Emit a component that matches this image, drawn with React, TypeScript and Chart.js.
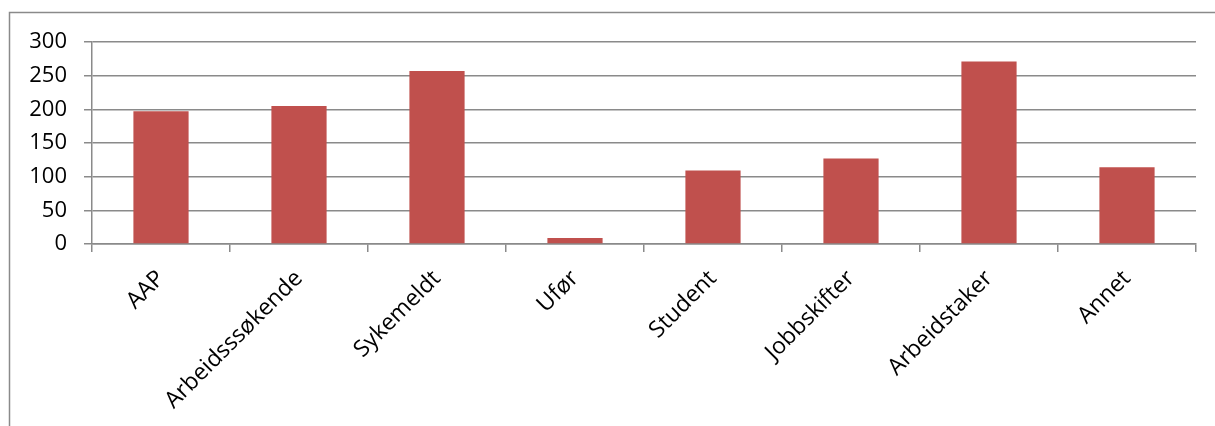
import React, { useEffect, useRef } from "react";
import { Chart, registerables } from "chart.js";

Chart.register(...registerables);

const categories = ["AAP", "Arbeidsssøkende", "Sykemeldt", "Ufør", "Student", "Jobbskifter", "Arbeidstaker", "Annet"];
const values = [197, 205, 257, 9, 109, 127, 271, 114];
const yMin = 0;
const yMax = 300;
const yStep = 50;

const framePlugin = {
  id: "frame",
  beforeDraw(chart: any) {
    const ctx = chart.ctx;
    ctx.save();
    ctx.strokeStyle = "#8a8a8a";
    ctx.lineWidth = 1.5;
    ctx.beginPath();
    ctx.moveTo(9.5, 430);
    ctx.lineTo(9.5, 12.5);
    ctx.lineTo(1220, 12.5);
    ctx.stroke();
    ctx.restore();
  },
};

export default function App() {
  const ref = useRef<HTMLCanvasElement>(null);
  useEffect(() => {
    document.body.style.margin = "0";
    const chart = new Chart(ref.current!, {
      type: "bar",
      data: {
        labels: categories,
        datasets: [
          {
            data: values,
            backgroundColor: "#C0504D",
            borderWidth: 0,
            barPercentage: 0.4,
            categoryPercentage: 1,
          },
        ],
      },
      options: {
        animation: false,
        responsive: false,
        devicePixelRatio: 1,
        layout: { padding: { top: 42, right: 19, left: 0, bottom: 0 } },
        plugins: { legend: { display: false }, tooltip: { enabled: false } },
        scales: {
          x: {
            grid: {
              drawOnChartArea: false,
              color: "#8a8a8a",
              lineWidth: 1.5,
              tickLength: 8,
              offset: true,
            },
            border: { color: "#8a8a8a", width: 1.5 },
            ticks: {
              color: "#000",
              font: { family: "Open Sans", size: 23 },
              maxRotation: 45,
              minRotation: 45,
              padding: 13,
            },
            afterFit(scale: any) {
              scale.height = 426 - 244;
            },
          },
          y: {
            min: yMin,
            max: yMax,
            grid: { color: "#8a8a8a", lineWidth: 1.5, tickLength: 8 },
            border: { color: "#8a8a8a", width: 1.5 },
            ticks: {
              stepSize: yStep,
              color: "#000",
              font: { family: "Open Sans", size: 22 },
              padding: 17,
            },
            afterFit(scale: any) {
              scale.width = 92;
            },
          },
        },
      },
      plugins: [framePlugin],
    });
    return () => chart.destroy();
  }, []);
  return (
    <div style={{ position: "absolute", left: 0, top: 0, width: 1215, height: 426, background: "#fff" }}>
      <canvas ref={ref} width={1215} height={426} style={{ display: "block" }} />
    </div>
  );
}
